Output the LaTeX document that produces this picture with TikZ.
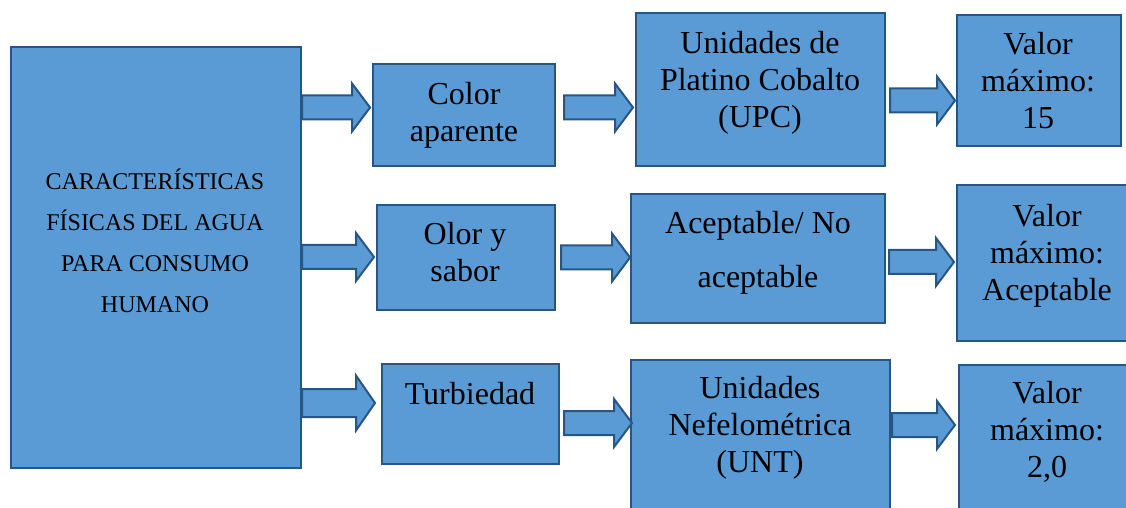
\documentclass[tikz,border=0pt]{standalone}
\usepackage{fontspec}
\setmainfont{Liberation Serif}
\definecolor{boxfill}{RGB}{91,155,213}
\definecolor{boxline}{RGB}{40,86,132}
\def\barrow#1{-- ++(0,-12) -- ++(#1-18,0) -- ++(0,-12) -- ++(18,24) -- ++(-18,24) -- ++(0,-12) -- ++(18-#1,0) -- cycle}
\def\wbarrow#1{-- ++(0,-14) -- ++(#1-19,0) -- ++(0,-13.5) -- ++(19,27.5) -- ++(-19,27.5) -- ++(0,-13.5) -- ++(19-#1,0) -- cycle}

\begin{document}
\begin{tikzpicture}[x=0.5pt,y=-0.5pt,
    box/.style 2 args={draw=boxline,fill=boxfill,line width=1pt,minimum width=#1*0.5pt,minimum height=#2*0.5pt,inner sep=0pt},
    txt/.style={align=center,inner sep=0pt,font=\fontsize{16}{18.5}\selectfont},
    arr/.style={draw=boxline,fill=boxfill,line width=1pt}]
    \useasboundingbox (0,0) rectangle (1126,508);
    % boxes
    \node[box={290}{421}] (main) at (156,257.5) {};
    \node[box={182}{102}] (color) at (464,115) {};
    \node[box={249}{153}] (upc) at (760.5,89.5) {};
    \node[box={164}{131}] (max1) at (1039,80.5) {};
    \node[box={178}{105}] (olor) at (466,257.5) {};
    \node[box={254}{129}] (acep) at (758,258.5) {};
    \node[box={172}{156}] (max2) at (1043,263) {};
    \node[box={177}{100}] (turb) at (470.5,414) {};
    \node[box={259}{152}] (unt) at (760.5,436) {};
    \node[box={170}{147}] (max3) at (1044,438.5) {};
    % texts
    \node[txt,font=\fontsize{12}{20.5}\selectfont] (maint) at (155,240.5) {CARACTERÍSTICAS\\FÍSICAS DEL AGUA\\PARA CONSUMO\\HUMANO};
    \node[txt] (colort) at (464,115.5) {Color\\aparente};
    \node[txt] (upct) at (760,83) {Unidades de\\Platino Cobalto\\(UPC)};
    \node[txt] (max1t) at (1038,80.5) {Valor\\máximo:\\15};
    \node[txt] (olort) at (465,252) {Olor y\\sabor};
    \node[txt,font=\fontsize{16}{27}\selectfont] (acept) at (758,252.5) {Aceptable/ No\\aceptable};
    \node[txt] (max2t) at (1047,256) {Valor\\máximo:\\Aceptable};
    \node[txt] (turbt) at (470,394) {Turbiedad};
    \node[txt] (untt) at (760,427.5) {Unidades\\Nefelométrica\\(UNT)};
    \node[txt] (max3t) at (1047,432) {Valor\\máximo:\\2,0};
    % block arrows
    \draw[arr] (main.east |- 0,107.5) \barrow{68};
    \draw[arr] (color.east |- 0,107.5) ++(8,0) \barrow{69};
    \draw[arr] (upc.east |- 0,100.5) ++(4,0) \barrow{65};
    \draw[arr] (main.east |- 0,257) \barrow{72};
    \draw[arr] (olor.east |- 0,257.5) ++(5,0) \barrow{69};
    \draw[arr] (acep.east |- 0,262) ++(3,0) \barrow{65};
    \draw[arr] (main.east |- 0,403) \wbarrow{73};
    \draw[arr] (turb.east |- 0,423) ++(4,0) \barrow{68};
    \draw[arr] (unt.east |- 0,425) ++(1,0) \barrow{63};
\end{tikzpicture}
\end{document}
